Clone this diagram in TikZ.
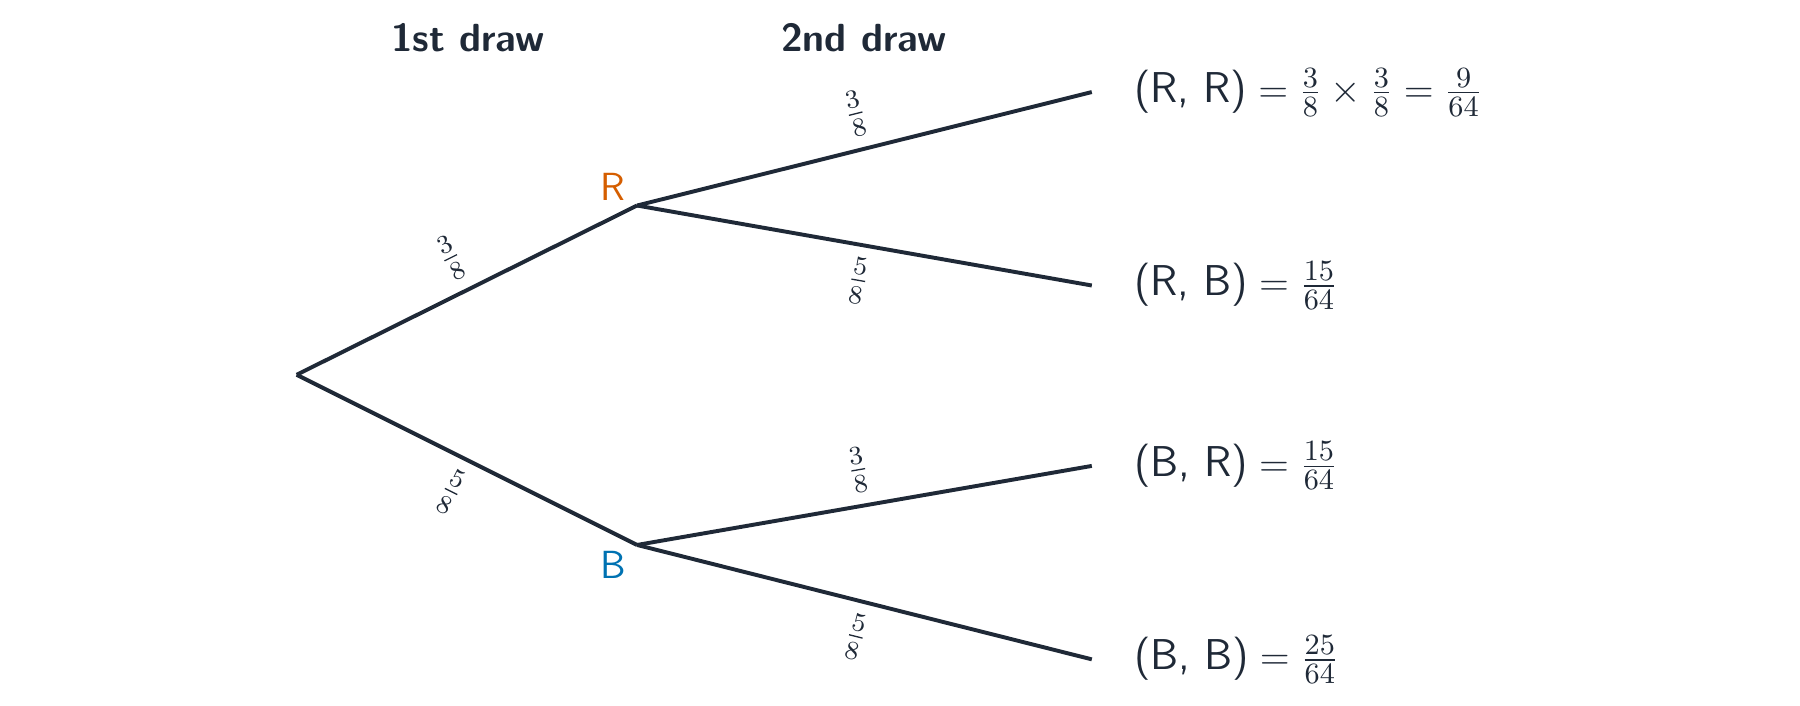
\documentclass[tikz,border=0pt]{standalone}
\usepackage{tikz}
\usetikzlibrary{positioning}
\definecolor{ink}{RGB}{31,41,55}
\definecolor{redball}{RGB}{213,94,0}
\definecolor{blueball}{RGB}{0,114,178}

\begin{document}
\begin{tikzpicture}[
    font=\large\sffamily,
    branch/.style={draw=ink, very thick},
    prob/.style={midway, sloped, font=\large, text=ink},
    head/.style={font=\large\sffamily\bfseries, text=ink},
    ball/.style={font=\large\sffamily},
    result/.style={right=0.45cm of #1, inner sep=0pt, text=ink,
                   font=\fontsize{13.2}{16}\selectfont\sffamily}
]

\useasboundingbox (0,0) rectangle (19.355,-7.581);

% ---- Headings ----
\node[head] (head1) at (5.03,-0.41) {1st draw};
\node[head] (head2) at (9.29,-0.41) {2nd draw};

% ---- Tree points ----
\coordinate (root) at (3.19,-4.03);
\coordinate (r) at (6.85,-2.21);
\coordinate (b) at (6.85,-5.86);
\coordinate (rr) at (11.74,-0.99);
\coordinate (rb) at (11.74,-3.07);
\coordinate (br) at (11.74,-5.01);
\coordinate (bb) at (11.74,-7.09);

% ---- First draw ----
\draw[branch] (root) -- (r) node[prob, above] (p1) {$\frac{3}{8}$};
\draw[branch] (root) -- (b) node[prob, below] (p2) {$\frac{5}{8}$};
\node[ball, text=redball] (rlbl) at (6.59,-2.01) {R};
\node[ball, text=blueball] (blbl) at (6.59,-6.07) {B};

% ---- Second draw ----
\draw[branch] (r) -- (rr) node[prob, above] (p3) {$\frac{3}{8}$};
\draw[branch] (r) -- (rb) node[prob, below] (p4) {$\frac{5}{8}$};
\draw[branch] (b) -- (br) node[prob, above] (p5) {$\frac{3}{8}$};
\draw[branch] (b) -- (bb) node[prob, below] (p6) {$\frac{5}{8}$};

% ---- Outcomes ----
\node[result=rr, anchor=west] (outrr) {$\textsf{(R, R)} = \frac{3}{8} \times \frac{3}{8} = \frac{9}{64}$};
\node[result=rb, anchor=west] (outrb) {$\textsf{(R, B)} = \frac{15}{64}$};
\node[result=br, anchor=west] (outbr) {$\textsf{(B, R)} = \frac{15}{64}$};
\node[result=bb, anchor=west] (outbb) {$\textsf{(B, B)} = \frac{25}{64}$};

\end{tikzpicture}
\end{document}
